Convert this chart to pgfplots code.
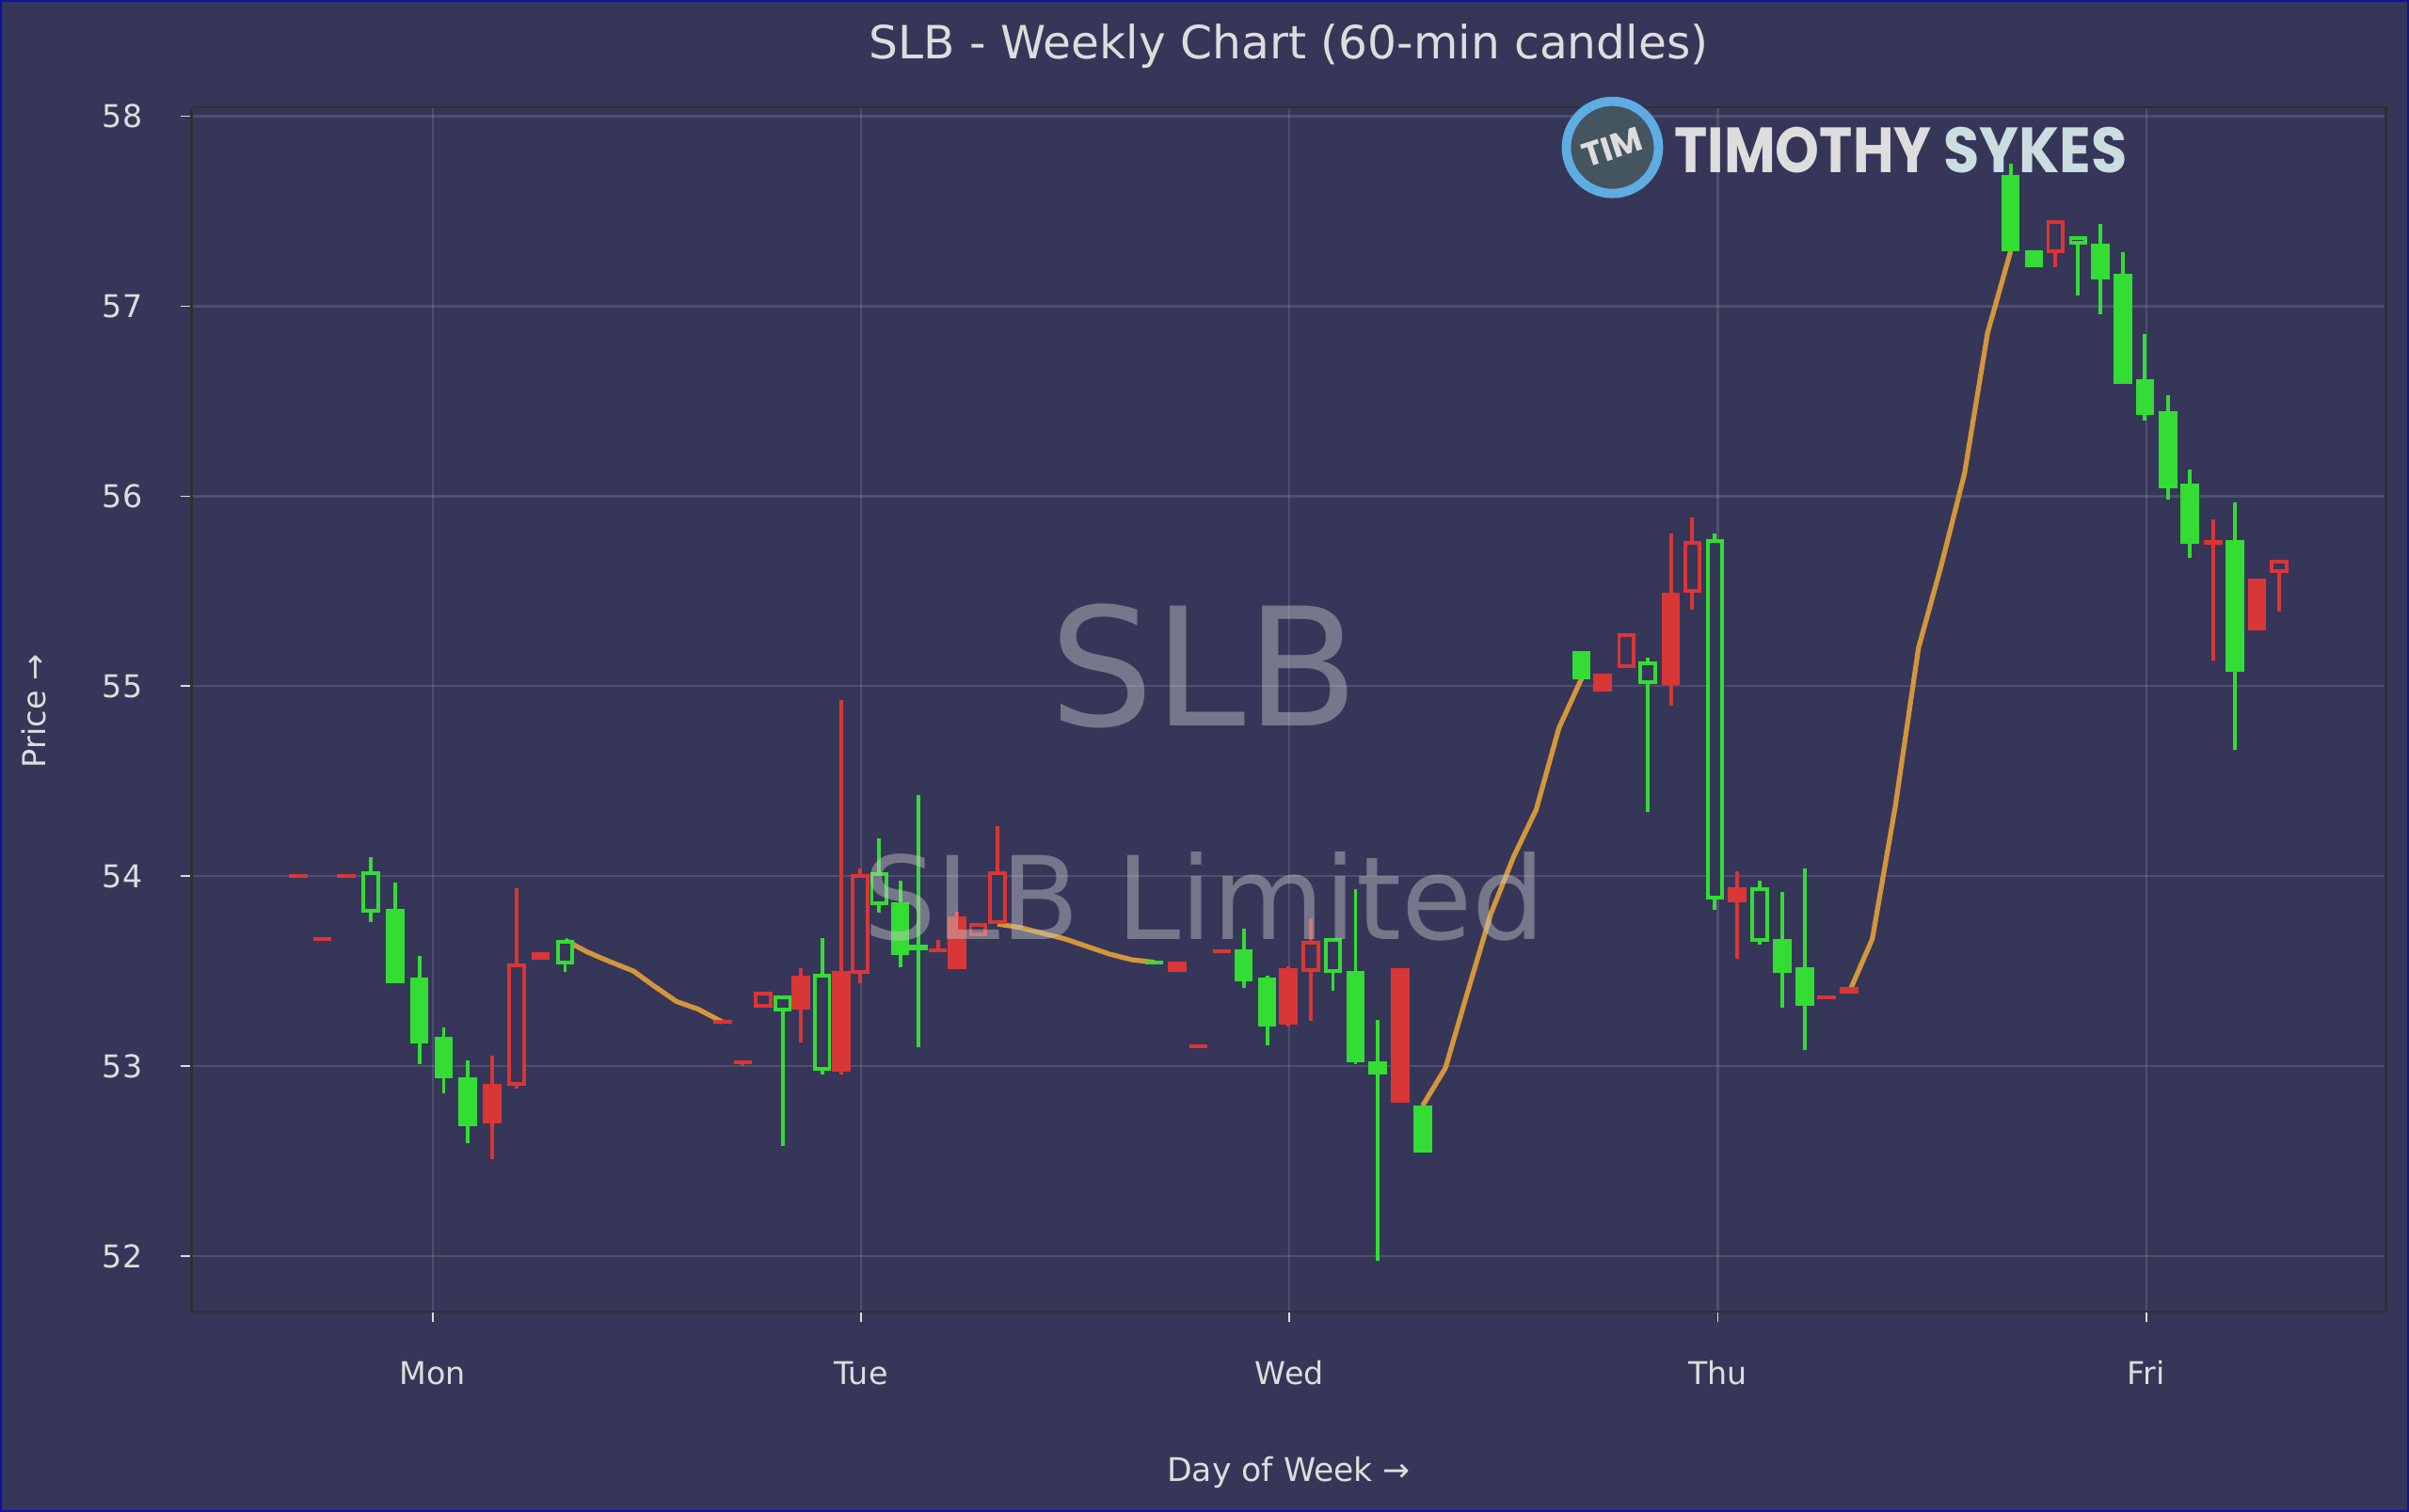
\documentclass[border=0pt]{standalone}
\usepackage{fontspec}
\setmainfont{DejaVu Sans}
\newfontfamily\logofont{Poppins}
\usepackage{pgfplots}
\usepackage{pgfplotstable}
\pgfplotsset{compat=1.18}

\definecolor{bg}{RGB}{54,54,89}
\definecolor{cgreen}{RGB}{51,221,51}
\definecolor{cred}{RGB}{217,54,54}
\definecolor{corange}{RGB}{212,150,58}
\definecolor{txt}{RGB}{221,221,221}
\definecolor{spine}{RGB}{48,48,52}
\definecolor{ring}{RGB}{93,173,226}
\definecolor{disc}{RGB}{69,85,96}
\definecolor{sykes}{RGB}{203,221,224}
\definecolor{border}{RGB}{16,16,165}
\definecolor{wm}{RGB}{200,200,200}

% x = day (Mon = 0), o h l c = open high low close
\pgfplotstableread{
x o h l c
-0.0879 53.827 53.967 53.435 53.435
-0.0313 53.465 53.580 53.008 53.121
0.0254 53.154 53.204 52.859 52.934
0.0821 52.942 53.028 52.596 52.683
1.0911 53.864 53.975 53.523 53.586
1.1338 53.640 54.427 53.098 53.612
1.6844 53.557 53.557 53.537 53.537
1.8931 53.615 53.726 53.410 53.447
1.9480 53.465 53.477 53.108 53.211
2.1542 53.502 53.930 53.008 53.020
2.2063 53.025 53.241 51.975 52.958
2.3110 52.792 52.792 52.547 52.547
2.6819 55.186 55.186 55.036 55.036
3.1503 53.669 53.915 53.307 53.492
3.2030 53.520 54.040 53.087 53.318
3.6836 57.692 57.752 57.290 57.290
3.7385 57.295 57.295 57.203 57.203
3.8931 57.331 57.433 56.957 57.143
3.9458 57.172 57.285 56.589 56.589
3.9971 56.618 56.852 56.400 56.430
4.0513 56.446 56.531 55.984 56.044
4.1015 56.064 56.140 55.674 55.748
4.2070 55.767 55.968 54.663 55.075
}\greenfilled

\pgfplotstableread{
x o h l c
-0.1446 53.810 54.100 53.756 54.025
0.3088 53.535 53.663 53.495 53.663
0.8167 53.287 53.370 52.580 53.370
0.9089 52.975 53.676 52.958 53.487
1.0423 53.847 54.201 53.809 54.022
2.1015 53.490 53.673 53.397 53.673
2.8357 55.009 55.150 54.339 55.132
2.9932 53.878 55.804 53.823 55.776
3.0979 53.653 53.977 53.638 53.940
3.8411 57.323 57.367 57.056 57.367
}\greenhollow

\pgfplotstableread{
x o h l c
-0.3146 54.010 54.010 53.990 53.990
-0.2579 53.680 53.680 53.660 53.660
-0.2013 54.012 54.012 53.992 53.992
0.1387 52.904 53.053 52.510 52.698
0.2521 53.601 53.601 53.560 53.560
0.6765 53.242 53.242 53.222 53.222
0.7238 53.030 53.030 53.000 53.012
0.8598 53.478 53.515 53.125 53.296
0.9537 53.503 54.927 52.958 52.972
1.1790 53.622 53.664 53.600 53.600
1.2238 53.789 53.814 53.510 53.510
1.7385 53.552 53.552 53.497 53.497
1.7873 53.115 53.115 53.097 53.097
1.8425 53.615 53.615 53.597 53.597
1.9971 53.515 53.527 53.208 53.219
2.2590 53.515 53.515 52.809 52.809
2.7307 55.064 55.064 54.972 54.972
2.8906 55.493 55.804 54.896 55.008
3.0452 53.940 54.024 53.567 53.864
3.2543 53.372 53.372 53.354 53.354
3.3070 53.418 53.418 53.380 53.380
4.1567 55.768 55.880 55.133 55.746
4.2589 55.568 55.568 55.296 55.296
}\redfilled

\pgfplotstableread{
x o h l c
0.1954 52.897 53.939 52.884 53.540
0.7712 53.307 53.390 53.307 53.390
0.9982 53.485 54.042 53.437 54.013
1.2730 53.686 53.751 53.686 53.751
1.3185 53.748 54.262 53.748 54.025
2.0495 53.498 53.780 53.236 53.661
2.7866 55.098 55.281 55.098 55.281
2.9405 55.493 55.889 55.403 55.763
3.7884 57.279 57.454 57.203 57.454
4.3110 55.598 55.664 55.395 55.664
}\redhollow

\pgfplotsset{
  wick/.style={draw=none, mark=none, forget plot,
    error bars/.cd, y dir=plus, y explicit, error mark=none,
    error bar style={line width=1.2pt, draw=#1, solid}},
  body/.style={draw=none, mark=none, forget plot,
    error bars/.cd, y dir=plus, y explicit, error mark=none,
    error bar style={line width=6pt, draw=#1, solid}},
  inner/.style={draw=none, mark=none, forget plot,
    error bars/.cd, y dir=plus, y explicit, error mark=none,
    error bar style={line width=3.6pt, draw=bg, solid}},
  gap/.style={draw=corange, line width=1.6pt, line join=round, no marks, forget plot},
}

\begin{document}
\begin{tikzpicture}
\fill[bg] (0,0) rectangle (784pt,492pt);
\begin{axis}[
  at={(62.35pt,65pt)}, anchor=south west,
  scale only axis, width=714.15pt, height=392.1pt,
  xmin=-0.5631, xmax=4.5599, ymin=51.7065, ymax=58.0477,
  clip mode=individual,
  axis line style={draw=spine, line width=0.7pt},
  tick align=outside, tick pos=left,
  major tick length=3.4pt,
  tick style={draw=txt, line width=0.5pt},
  grid=major,
  grid style={draw=white, draw opacity=0.12, line width=0.7pt},
  xtick={0,1,2,3,4}, xticklabels={Mon,Tue,Wed,Thu,Fri},
  ytick={52,53,54,55,56,57,58},
  /pgf/number format/assume math mode=true,
  tick label style={font=\fontsize{10.2}{12}\selectfont, text=txt},
  xticklabel style={anchor=base, inner sep=0pt, yshift=-20.2pt},
  yticklabel style={anchor=east, inner sep=0pt, xshift=-12.4pt},
  title={SLB - Weekly Chart (60-min candles)},
  every axis title/.style={at={(rel axis cs:0.5,1)}, anchor=base, yshift=15.7pt,
    inner sep=0pt, font=\fontsize{14.9}{17}\selectfont, text=txt},
  xlabel={Day of Week →},
  every axis x label/.style={at={(rel axis cs:0.5,0)}, anchor=base, yshift=-55.05pt,
    inner sep=0pt, font=\fontsize{10.6}{12}\selectfont, text=txt},
  ylabel={Price →},
  every axis y label/.style={at={(rel axis cs:0,0.5)}, xshift=-51.35pt, yshift=-0.55pt,
    rotate=90, anchor=center, inner sep=0pt, font=\fontsize{10.3}{12}\selectfont, text=txt},
]
% logo (under the candles)
\draw[ring, line width=3pt, fill=disc] (axis cs:2.7540,57.836) circle[radius=15pt];
\node[rotate=18, text=txt, inner sep=0pt, font=\logofont\bfseries\fontsize{11}{11}\selectfont]
  at (axis cs:2.7540,57.836) {TIM};
\node[anchor=base west, inner sep=0pt, text=txt] at (axis cs:2.8974,57.7041)
  {\resizebox{83.65pt}{14.8pt}{\logofont\bfseries TIMOTHY}};
\node[anchor=base west, inner sep=0pt, text=sykes] at (axis cs:3.5251,57.7041)
  {\resizebox{59.85pt}{14.8pt}{\logofont\bfseries SYKES}};

% connecting lines between sessions
\addplot[gap] coordinates {(0.3088,53.663) (0.3615,53.600) (0.4135,53.550) (0.4688,53.500)
  (0.5176,53.420) (0.5692,53.340) (0.6194,53.300) (0.6765,53.232)};
\addplot[gap] coordinates {(1.3185,53.748) (1.3709,53.730) (1.4229,53.700) (1.4752,53.670)
  (1.5276,53.630) (1.5796,53.590) (1.6320,53.560) (1.6844,53.547)};
\addplot[gap] coordinates {(2.3110,52.792) (2.3641,52.990) (2.4172,53.400) (2.4699,53.800)
  (2.5229,54.100) (2.5760,54.350) (2.6291,54.780) (2.6819,55.040)};
\addplot[gap] coordinates {(3.3070,53.390) (3.3608,53.670) (3.4146,54.370) (3.4684,55.200)
  (3.5222,55.640) (3.5760,56.120) (3.6298,56.860) (3.6836,57.290)};

% wicks
\addplot[wick=cgreen] table[x=x, y=l, y error expr=\thisrow{h}-\thisrow{l}] {\greenfilled};
\addplot[wick=cgreen] table[x=x, y=l, y error expr=\thisrow{h}-\thisrow{l}] {\greenhollow};
\addplot[wick=cred] table[x=x, y=l, y error expr=\thisrow{h}-\thisrow{l}] {\redfilled};
\addplot[wick=cred] table[x=x, y=l, y error expr=\thisrow{h}-\thisrow{l}] {\redhollow};
% bodies
\addplot[body=cgreen] table[x=x, y=c, y error expr=\thisrow{o}-\thisrow{c}] {\greenfilled};
\addplot[body=cred] table[x=x, y=c, y error expr=\thisrow{o}-\thisrow{c}] {\redfilled};
\addplot[body=cgreen] table[x=x, y=o, y error expr=\thisrow{c}-\thisrow{o}] {\greenhollow};
\addplot[body=cred] table[x=x, y=o, y error expr=\thisrow{c}-\thisrow{o}] {\redhollow};
\addplot[inner] table[x=x, y expr=\thisrow{o}+0.0198, y error expr={max(\thisrow{c}-\thisrow{o}-0.0396,0)}] {\greenhollow};
\addplot[inner] table[x=x, y expr=\thisrow{o}+0.0198, y error expr={max(\thisrow{c}-\thisrow{o}-0.0396,0)}] {\redhollow};

% watermark
\node[anchor=base, inner sep=0pt, text=wm, text opacity=0.45, font=\fontsize{53.5}{60}\selectfont]
  at (axis cs:1.8016,54.791) {SLB};
\node[anchor=base, inner sep=0pt, text=wm, text opacity=0.45, font=\fontsize{37.5}{42}\selectfont]
  at (axis cs:1.8016,53.668) {SLB Limited};
\end{axis}
\draw[border, line width=0.6pt] (0.3pt,0.3pt) rectangle (783.7pt,491.7pt);
\pgfresetboundingbox
\useasboundingbox (0,0) rectangle (784pt,492pt);
\end{tikzpicture}
\end{document}
